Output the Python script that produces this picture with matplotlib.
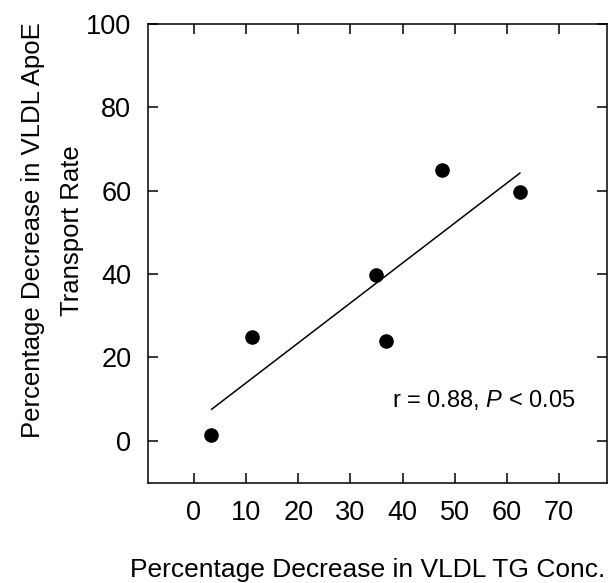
import matplotlib as mpl

mpl.use("Agg")
import matplotlib.pyplot as plt

plt.rcParams["font.family"] = ["Liberation Sans", "DejaVu Sans"]
plt.rcParams["mathtext.fontset"] = "custom"
plt.rcParams["mathtext.rm"] = "Liberation Sans"
plt.rcParams["mathtext.it"] = "Liberation Sans:italic"

# points
tg_decrease = [3.3, 11.1, 34.9, 36.8, 47.6, 62.5]
apoe_decrease = [1.3, 24.8, 39.7, 23.8, 64.9, 59.7]

# regression line endpoints
fit_x = [3.4, 62.5]
fit_y = [7.5, 64.2]

xticks = [0, 10, 20, 30, 40, 50, 60, 70]
yticks = [0, 20, 40, 60, 80, 100]

fig = plt.figure(figsize=(6.16, 5.83), dpi=100)
ax = fig.add_axes([148 / 616, 1 - 483 / 583, 459 / 616, 459 / 583])

ax.plot(fit_x, fit_y, color="black", lw=1.1)
ax.scatter(tg_decrease, apoe_decrease, s=90, color="black", zorder=3)

ax.text(38.0, 9.8, "r = 0.88, $\\it{P}$ < 0.05", fontsize=17, va="center", ha="left")

ax.set_xlim(-8.8, 79.2)
ax.set_ylim(-10.2, 100)
ax.set_xticks(xticks)
ax.set_yticks(yticks)
ax.tick_params(direction="in", length=7, width=1.1, labelsize=19.5,
               top=True, right=True, pad=12)
for s in ax.spines.values():
    s.set_linewidth(1.1)

ax.set_xlabel("Percentage Decrease in VLDL TG Conc.", fontsize=19)
ax.xaxis.set_label_coords(0.479, -0.163)
ax.set_ylabel("Percentage Decrease in VLDL ApoE\nTransport Rate", fontsize=18.5,
              linespacing=1.75)
ax.yaxis.set_label_coords(-0.14, 0.55)

plt.savefig("out.png", dpi=100)
plt.close()
